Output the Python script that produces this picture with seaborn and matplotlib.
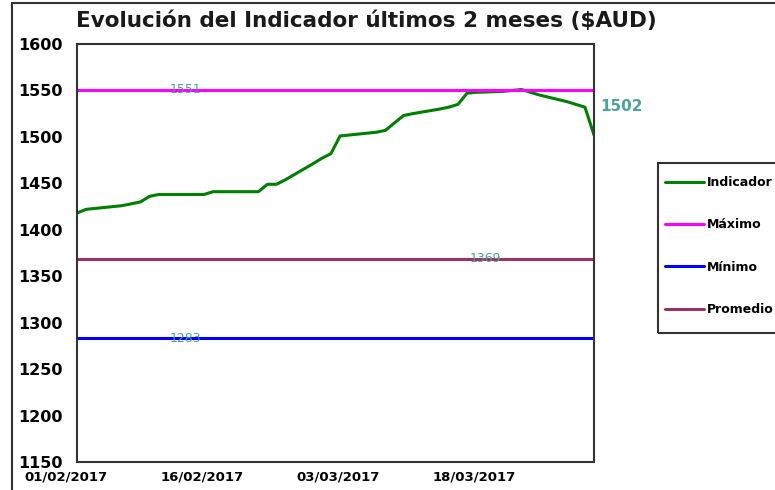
import pandas as pd
import numpy as np
import matplotlib
matplotlib.use("Agg")
import matplotlib.pyplot as plt
import matplotlib.dates as mdates
import matplotlib.transforms as mtrans
from matplotlib.patches import Rectangle
import seaborn as sns

# datos
fechas = ['2017-02-01', '2017-02-02', '2017-02-03', '2017-02-06', '2017-02-07', '2017-02-08',
          '2017-02-09', '2017-02-10', '2017-02-13', '2017-02-14', '2017-02-15', '2017-02-16',
          '2017-02-17', '2017-02-20', '2017-02-21', '2017-02-22', '2017-02-23', '2017-02-24',
          '2017-02-27', '2017-02-28', '2017-03-01', '2017-03-02', '2017-03-03', '2017-03-06',
          '2017-03-07', '2017-03-08', '2017-03-09', '2017-03-10', '2017-03-13', '2017-03-14',
          '2017-03-15', '2017-03-16', '2017-03-17', '2017-03-20', '2017-03-21', '2017-03-22',
          '2017-03-23', '2017-03-24', '2017-03-27', '2017-03-28', '2017-03-29', '2017-03-30']
indicador = [1418, 1422, 1423, 1426, 1428, 1430,
             1436, 1438, 1438, 1438, 1438, 1441,
             1441, 1441, 1441, 1449, 1449, 1454,
             1471, 1477, 1482, 1501, 1502, 1505,
             1507, 1515, 1523, 1525, 1530, 1532,
             1535, 1547, 1548, 1549, 1550, 1551,
             1548, 1545, 1538, 1535, 1532, 1502]
maximo = 1551
minimo = 1283
promedio = 1369
ticks_x = ['2017-02-01', '2017-02-16', '2017-03-03', '2017-03-18']
ticks_y = [1150, 1200, 1250, 1300, 1350, 1400, 1450, 1500, 1550, 1600]
fecha_etiqueta_max = '2017-02-13'
fecha_etiqueta_prom = '2017-03-18'
fecha_etiqueta_min = '2017-02-13'

df = pd.DataFrame({'Fecha': pd.to_datetime(fechas), 'Indicador': indicador})
df['Máximo'] = maximo
df['Mínimo'] = minimo
df['Promedio'] = promedio

sns.set_style("white")
plt.rcParams['font.family'] = ['DejaVu Sans']

fig = plt.figure(figsize=(7.75, 4.9), dpi=100)
ax = fig.add_axes([77 / 775, 1 - 462 / 490, (594 - 77) / 775, (462 - 44) / 490])

colores = {'Indicador': '#008000', 'Máximo': '#ff00ff', 'Mínimo': '#0000ff', 'Promedio': '#993366'}
for serie in ['Indicador', 'Máximo', 'Mínimo', 'Promedio']:
    sns.lineplot(data=df, x='Fecha', y=serie, ax=ax, color=colores[serie], lw=2.2, label=serie)

ax.set_xlim(df['Fecha'].min(), df['Fecha'].max())
ax.set_ylim(1150, 1600)
ax.set_yticks(ticks_y)
ax.set_xticks(pd.to_datetime(ticks_x))
ax.xaxis.set_major_formatter(mdates.DateFormatter('%d/%m/%Y'))
ax.set_xlabel('')
ax.set_ylabel('')
ax.tick_params(axis='both', direction='out', length=3.6, width=1.2, colors='#333333')
ax.tick_params(axis='x', pad=2.5)
ax.tick_params(axis='y', pad=7)
for lbl in ax.get_yticklabels():
    lbl.set_fontweight('bold'); lbl.set_fontsize(11.5); lbl.set_color('black')
desplaza = mtrans.ScaledTranslation(-11 / 100, 0, fig.dpi_scale_trans)
for lbl in ax.get_xticklabels():
    lbl.set_fontweight('bold'); lbl.set_fontsize(9.5); lbl.set_color('black')
    lbl.set_transform(lbl.get_transform() + desplaza)
for s in ax.spines.values():
    s.set_color('#333333'); s.set_linewidth(1.5)

# etiquetas de valores
col_et = '#4aa39c'
ax.text(pd.Timestamp(fecha_etiqueta_max), maximo, str(maximo), color=col_et, fontsize=9,
        ha='center', va='center')
ax.text(pd.Timestamp(fecha_etiqueta_prom), promedio, str(promedio), color=col_et, fontsize=9,
        ha='center', va='center')
ax.text(pd.Timestamp(fecha_etiqueta_min), minimo, str(minimo), color=col_et, fontsize=9,
        ha='center', va='center')
ax.annotate(str(indicador[-1]), (df['Fecha'].iloc[-1], indicador[-1]), xytext=(6, 29),
            textcoords='offset pixels', color=col_et, fontsize=11, fontweight='bold',
            ha='left', va='center', annotation_clip=False)

fig.text(366 / 775, 1 - 21 / 490, 'Evolución del Indicador últimos 2 meses ($AUD)',
         ha='center', va='center', fontsize=15.5, fontweight='bold', color='#1a1a1a')

# leyenda
ax.get_legend().remove()
h, l = ax.get_legend_handles_labels()
leg = fig.legend(h, l, loc='upper left', bbox_to_anchor=(665 / 775, 1 - 176 / 490),
                 frameon=False, prop={'weight': 'bold', 'size': 9}, labelspacing=2.35,
                 handlelength=3.1, handletextpad=0.25, borderpad=0, borderaxespad=0,
                 labelcolor='black')
fig.patches.append(Rectangle((658 / 775, 1 - 333 / 490), 0.3, 170 / 490, transform=fig.transFigure,
                             fill=False, edgecolor='#333333', lw=1.5))

# marco exterior
fig.patches.append(Rectangle((12 / 775, -0.01), 1.02, 1 - 3 / 490 + 0.01, transform=fig.transFigure,
                             fill=False, edgecolor='#333333', lw=1.5))

fig.savefig('out.png', dpi=100)
